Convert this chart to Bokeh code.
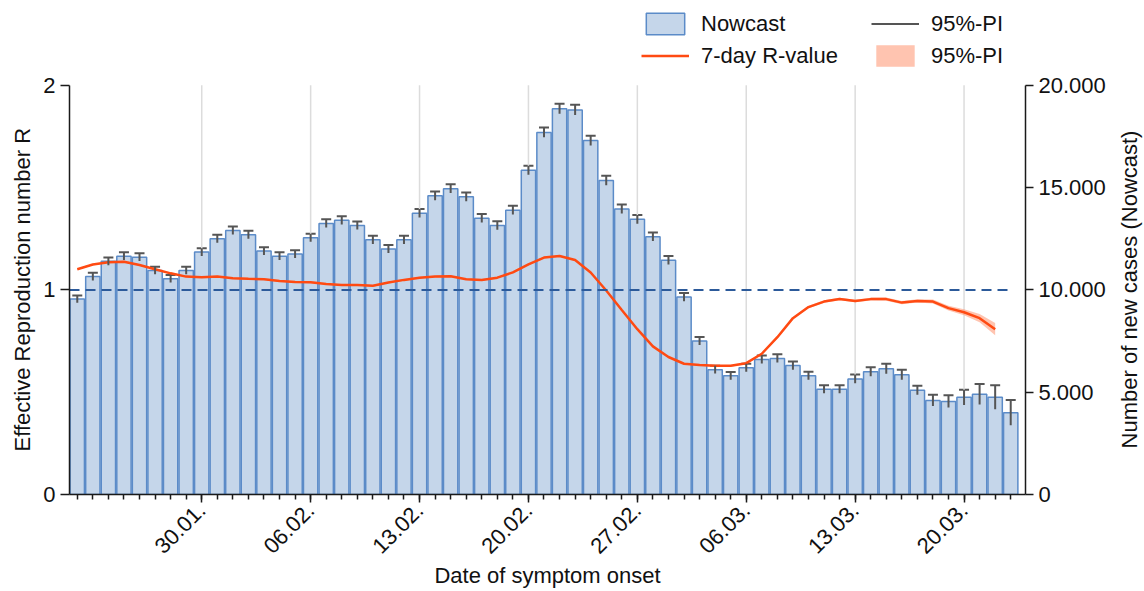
import math
import pandas as pd
from bokeh.plotting import figure
from bokeh.models import (Range1d, LinearAxis, FixedTicker, ColumnDataSource,
                          Whisker, TeeHead, Legend, LegendItem, Label, Title)
from bokeh.embed import file_html
from bokeh.resources import INLINE

# ---------------- data ----------------
dates = pd.date_range("2022-01-22", "2022-03-23", freq="D")

nowcast = [9550, 10650, 11400, 11650, 11600, 10950, 10550, 10950, 11850, 12500,
           12900, 12700, 11900, 11650, 11750, 12550, 13250, 13400, 13150, 12450,
           12000, 12450, 13750, 14600, 14950, 14550, 13500, 13150, 13900, 15850,
           17700, 18850, 18800, 17300, 15350, 13950, 13450, 12600, 11450, 9650,
           7500, 6100, 5800, 6200, 6600, 6650, 6300, 5800, 5150, 5150,
           5650, 6000, 6150, 5850, 5100, 4600, 4550, 4750, 4900, 4750, 4000]

nowcast_pi_half = [180, 185, 190, 190, 190, 185, 185, 185, 190, 195,
                   195, 195, 190, 190, 190, 195, 200, 200, 200, 200,
                   200, 200, 210, 215, 215, 215, 210, 210, 215, 225,
                   235, 245, 245, 240, 230, 220, 215, 210, 205, 205,
                   195, 190, 190, 195, 200, 200, 200, 195, 195, 195,
                   210, 215, 245, 245, 220, 280, 300, 370, 500, 585, 620]

r_value = [1.101, 1.124, 1.135, 1.138, 1.122, 1.101, 1.081, 1.065, 1.062, 1.065,
           1.057, 1.054, 1.052, 1.044, 1.039, 1.037, 1.029, 1.024, 1.024, 1.020,
           1.036, 1.049, 1.060, 1.065, 1.067, 1.052, 1.049, 1.060, 1.086, 1.125,
           1.158, 1.166, 1.146, 1.085, 0.997, 0.902, 0.808, 0.724, 0.672, 0.639,
           0.633, 0.629, 0.629, 0.642, 0.688, 0.769, 0.862, 0.916, 0.943, 0.956,
           0.946, 0.955, 0.955, 0.938, 0.946, 0.943, 0.911, 0.891, 0.862, 0.808]

r_pi_half = [0.004, 0.004, 0.004, 0.004, 0.004, 0.004, 0.004, 0.004, 0.004, 0.004,
             0.004, 0.004, 0.004, 0.004, 0.004, 0.004, 0.004, 0.004, 0.004, 0.004,
             0.004, 0.004, 0.004, 0.004, 0.004, 0.004, 0.004, 0.004, 0.004, 0.004,
             0.004, 0.004, 0.004, 0.004, 0.004, 0.004, 0.004, 0.004, 0.004, 0.004,
             0.004, 0.004, 0.004, 0.004, 0.005, 0.006, 0.006, 0.006, 0.006, 0.006,
             0.006, 0.007, 0.008, 0.008, 0.008, 0.010, 0.012, 0.015, 0.020, 0.030]

r_reference = 1.0

x_tick_labels = ["30.01.", "06.02.", "13.02.", "20.02.", "27.02.", "06.03.", "13.03.", "20.03."]
r_ticks = [0, 1, 2]
case_ticks = [0, 5000, 10000, 15000, 20000]
case_tick_labels = ["0", "5.000", "10.000", "15.000", "20.000"]

# ---------------- layout / derived ----------------
FONT = "Liberation Sans"
FS = "22px"
TXT = "#111111"

W, H = 1144, 591
B_LEFT, B_RIGHT, B_BOTTOM = 69, 119, 96
AXIS_PX = 410                      # height of the axes themselves
FRAME_PX = H - B_BOTTOM            # frame extends up to hold the legend
ext = FRAME_PX / AXIS_PX

day_labels = [d.strftime("%d.%m.") for d in dates]
xs = list(range(len(dates)))
major_ticks = [day_labels.index(lbl) for lbl in x_tick_labels]
r_max, c_max = r_ticks[-1], case_ticks[-1]

bar_src = ColumnDataSource(dict(
    x=xs, n=nowcast,
    lo=[v - h for v, h in zip(nowcast, nowcast_pi_half)],
    hi=[v + h for v, h in zip(nowcast, nowcast_pi_half)],
))
nr = len(r_value)
r_src = ColumnDataSource(dict(
    x=xs[:nr], r=r_value,
    lo=[v - h for v, h in zip(r_value, r_pi_half)],
    hi=[v + h for v, h in zip(r_value, r_pi_half)],
))

x0, x1 = xs[0] - 0.5, xs[-1] + 0.95
p = figure(width=W, height=H, output_backend="svg", toolbar_location=None,
           x_range=Range1d(x0, x1), y_range=Range1d(0, r_max * ext),
           min_border_left=B_LEFT, min_border_right=B_RIGHT, min_border_top=0,
           min_border_bottom=B_BOTTOM)
p.extra_y_ranges = {"cases": Range1d(0, c_max * ext)}
p.outline_line_color = None
p.background_fill_color = "white"
p.border_fill_color = "white"
p.grid.visible = False

# vertical grid lines at the labelled dates (only over the axes' height)
p.segment(x0=major_ticks, y0=[0] * len(major_ticks), x1=major_ticks,
          y1=[r_max] * len(major_ticks), line_color="#dcdcdc", line_width=1.5)

# bars
bars = p.vbar(x="x", top="n", bottom=0, width=0.92, source=bar_src,
              y_range_name="cases", fill_color="#C5D6EA", line_color="#5B8BC8",
              line_width=1.5)

# R band and line
band = p.varea(x="x", y1="lo", y2="hi", source=r_src, fill_color="#FF9470",
               fill_alpha=0.55)
rline = p.line(x="x", y="r", source=r_src, line_color="#FF4A12", line_width=2.5)

# reference line R = 1
p.line(x=[x0, xs[-1]], y=[r_reference, r_reference], line_dash="10 6",
       line_color="#2C5A9A", line_width=2)

# error bars
stems = p.segment(x0="x", y0="lo", x1="x", y1="hi", source=bar_src,
                  y_range_name="cases", line_color="#555555", line_width=2)
wh = Whisker(base="x", lower="lo", upper="hi", source=bar_src, y_range_name="cases",
             line_alpha=0,
             upper_head=TeeHead(size=10, line_color="#555555", line_width=2),
             lower_head=TeeHead(size=10, line_color="#555555", line_width=2))
p.add_layout(wh)

# axes
def style_axis(ax):
    ax.axis_line_color = "#1a1a1a"
    ax.axis_line_width = 1.5
    ax.major_tick_line_color = "#1a1a1a"
    ax.major_tick_line_width = 1.5
    ax.major_tick_out = 8
    ax.major_tick_in = 0
    ax.minor_tick_line_color = None
    ax.major_label_text_font = FONT
    ax.major_label_text_font_size = FS
    ax.major_label_text_color = TXT
    ax.axis_label_text_font = FONT
    ax.axis_label_text_font_size = FS
    ax.axis_label_text_font_style = "normal"
    ax.axis_label_text_color = TXT

xa = p.xaxis[0]
style_axis(xa)
xa.ticker = FixedTicker(ticks=major_ticks, minor_ticks=xs)
xa.major_label_overrides = {t: day_labels[t] for t in major_ticks}
xa.minor_tick_line_color = "#1a1a1a"
xa.minor_tick_line_width = 1.5
xa.minor_tick_out = 5
xa.minor_tick_in = 0
xa.major_label_orientation = math.pi / 4
xa.major_label_standoff = 4
xa.axis_label = "Date of symptom onset"
xa.axis_label_standoff = 0

ya = p.yaxis[0]
style_axis(ya)
ya.bounds = (0, r_max)
ya.ticker = FixedTicker(ticks=r_ticks)
ya.major_tick_out = 9

ra = LinearAxis(y_range_name="cases", ticker=FixedTicker(ticks=case_ticks),
                major_label_overrides=dict(zip(case_ticks, case_tick_labels)),
                bounds=(0, c_max))
style_axis(ra)
ra.major_label_standoff = 5
p.add_layout(ra, "right")

# left axis title: starts at the foot of the axis, reads bottom-to-top
p.add_layout(Title(text="Effective Reproduction number R", align="left", offset=43,
                   standoff=12, text_font=FONT, text_font_size=FS,
                   text_font_style="normal", text_color=TXT), "left")

# right axis title, reading bottom-to-top, centred on the axis
p.add_layout(Label(x=21, y=AXIS_PX / 2, x_units="screen", y_units="screen",
                   text="Number of new cases (Nowcast)", angle=math.pi / 2,
                   text_align="center", text_baseline="middle", text_font=FONT,
                   text_font_size=FS, text_color=TXT), "right")

# legends (two columns) above the axes
def make_legend(items, loc):
    return Legend(items=items, location=loc, orientation="vertical",
                  glyph_width=48, glyph_height=27, label_standoff=12, spacing=5,
                  padding=0, margin=0, border_line_color=None,
                  background_fill_alpha=0, label_text_font=FONT,
                  label_text_font_size=FS, label_text_color=TXT, label_height=20)

leg1 = make_legend([LegendItem(label="Nowcast", renderers=[bars]),
                    LegendItem(label="7-day R-value", renderers=[rline])], (572, 425))
leg2 = make_legend([LegendItem(label="95%-PI", renderers=[stems]),
                    LegendItem(label="95%-PI", renderers=[band])], (802, 425))
p.add_layout(leg1)
p.add_layout(leg2)

open("out.html", "w").write(file_html(p, INLINE))
